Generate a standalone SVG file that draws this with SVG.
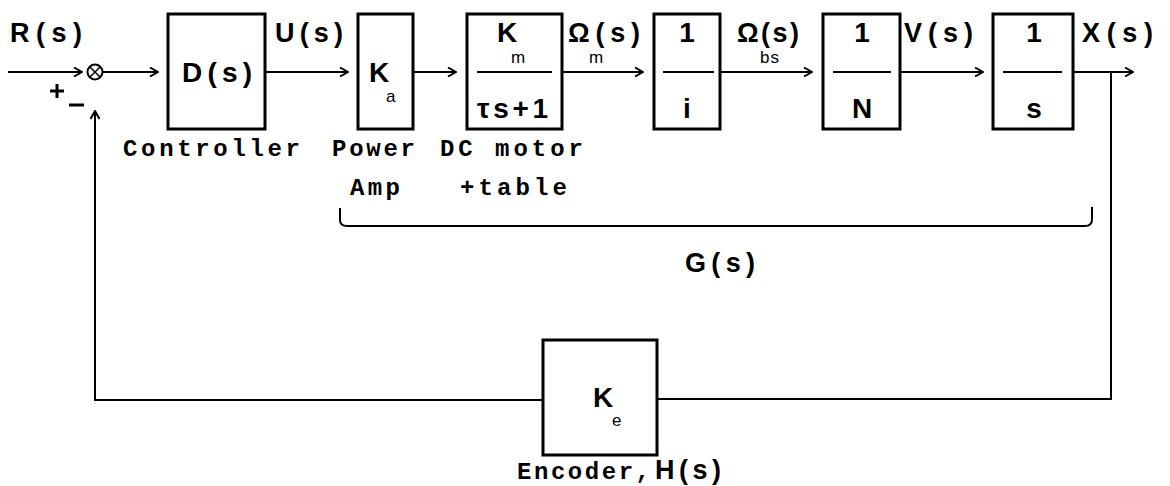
<svg xmlns="http://www.w3.org/2000/svg" width="1170" height="486" viewBox="0 0 1170 486">
<defs>
<marker id="arr" viewBox="0 0 10 10" refX="9" refY="5" markerWidth="10" markerHeight="10" markerUnits="userSpaceOnUse" orient="auto">
<path d="M1,0.5 L9,5 L1,9.5" fill="none" stroke="#000" stroke-width="2"/>
</marker>
<style>
.box{fill:#fff;stroke:#000;stroke-width:3}
.ln{fill:none;stroke:#000;stroke-width:2}
.frac{stroke:#000;stroke-width:2}
.big{font-family:"Liberation Sans",Arial,sans-serif;font-weight:bold;font-size:27px;fill:#000}
.blk{font-family:"Liberation Sans",Arial,sans-serif;font-weight:bold;font-size:28px;fill:#000}
.sub{font-family:"Liberation Sans",Arial,sans-serif;font-size:17px;fill:#000}
.cap{font-family:"Liberation Mono","Courier New",monospace;font-weight:bold;font-size:24px;fill:#000}
</style>
</defs>
<rect width="1170" height="486" fill="#fff"/>

<g id="connectors">
<line class="ln" x1="8" y1="72" x2="82" y2="72" marker-end="url(#arr)"/>
<line class="ln" x1="103" y1="72" x2="158" y2="72" marker-end="url(#arr)"/>
<line class="ln" x1="265" y1="72" x2="348" y2="72" marker-end="url(#arr)"/>
<line class="ln" x1="413" y1="72" x2="456" y2="72" marker-end="url(#arr)"/>
<line class="ln" x1="562" y1="72" x2="643" y2="72" marker-end="url(#arr)"/>
<line class="ln" x1="720" y1="72" x2="812" y2="72" marker-end="url(#arr)"/>
<line class="ln" x1="900" y1="72" x2="983" y2="72" marker-end="url(#arr)"/>
<line class="ln" x1="1073" y1="72" x2="1133" y2="72" marker-end="url(#arr)"/>
<path class="ln" d="M1111,72 V399 H657"/>
<path class="ln" d="M543,400 H95 V111" marker-end="url(#arr)"/>
</g>

<g id="sum">
<circle cx="95" cy="72" r="7.5" fill="#fff" stroke="#000" stroke-width="2"/>
<path d="M90,67 L100,77 M100,67 L90,77" stroke="#000" stroke-width="1.5"/>
<path d="M50,91 H64 M57,84 V98" stroke="#000" stroke-width="3"/>
<path d="M69,105 H84" stroke="#000" stroke-width="3"/>
</g>

<g id="labels">
<text class="big" x="10" y="42" textLength="72" lengthAdjust="spacing">R(s)</text>
<text class="big" x="275" y="42" textLength="68" lengthAdjust="spacing">U(s)</text>
<text class="big" x="568" y="42" textLength="72" lengthAdjust="spacing">Ω(s)</text>
<text class="sub" x="589" y="63">m</text>
<text class="big" x="737" y="42" textLength="62" lengthAdjust="spacing">Ω(s)</text>
<text class="sub" x="760" y="63" letter-spacing="1">bs</text>
<text class="big" x="904" y="42" textLength="69" lengthAdjust="spacing">V(s)</text>
<text class="big" x="1082" y="42" textLength="71" lengthAdjust="spacing">X(s)</text>
</g>

<g id="controller">
<rect class="box" x="168" y="14" width="97" height="115"/>
<text class="blk" x="182" y="82" textLength="70" lengthAdjust="spacing">D(s)</text>
<text class="cap" x="123" y="156" textLength="177" lengthAdjust="spacing">Controller</text>
</g>

<g id="amp">
<rect class="box" x="358" y="14" width="55" height="115"/>
<text class="blk" x="369" y="82">K</text>
<text class="sub" x="386" y="102">a</text>
<text class="cap" x="332" y="156" textLength="83" lengthAdjust="spacing">Power</text>
<text class="cap" x="350" y="195" textLength="50" lengthAdjust="spacing">Amp</text>
</g>

<g id="motor">
<rect class="box" x="467" y="14" width="95" height="115"/>
<text class="blk" x="497" y="42">K</text>
<text class="sub" x="511" y="63">m</text>
<line class="frac" x1="477" y1="72" x2="552" y2="72"/>
<text class="blk" x="477" y="118" textLength="71" lengthAdjust="spacing">τs+1</text>
<text class="cap" x="440" y="156" textLength="143" lengthAdjust="spacing">DC motor</text>
<text class="cap" x="460" y="195" textLength="107" lengthAdjust="spacing">+table</text>
</g>

<g id="gear">
<rect class="box" x="654" y="14" width="66" height="115"/>
<text class="blk" x="687" y="42" text-anchor="middle">1</text>
<line class="frac" x1="663" y1="72" x2="714" y2="72"/>
<text class="blk" x="687" y="118" text-anchor="middle">i</text>
</g>

<g id="screw">
<rect class="box" x="823" y="14" width="77" height="115"/>
<text class="blk" x="862" y="42" text-anchor="middle">1</text>
<line class="frac" x1="833" y1="72" x2="891" y2="72"/>
<text class="blk" x="862" y="118" text-anchor="middle">N</text>
</g>

<g id="integrator">
<rect class="box" x="993" y="14" width="80" height="115"/>
<text class="blk" x="1034" y="42" text-anchor="middle">1</text>
<line class="frac" x1="1003" y1="72" x2="1062" y2="72"/>
<text class="blk" x="1034" y="118" text-anchor="middle">s</text>
</g>

<g id="plant">
<path class="ln" d="M340,208 V220 Q340,226 347,226 H1085 Q1092,226 1092,219 V207" stroke-width="2.5"/>
<text class="big" x="685" y="272" textLength="70" lengthAdjust="spacing">G(s)</text>
</g>

<g id="encoder">
<rect class="box" x="543" y="340" width="114" height="115"/>
<text class="blk" x="593" y="407">K</text>
<text class="sub" x="612" y="426">e</text>
<text class="cap" x="517" y="479" textLength="133" lengthAdjust="spacing">Encoder,</text>
<text class="big" x="655" y="479" textLength="66" lengthAdjust="spacing">H(s)</text>
</g>
</svg>
